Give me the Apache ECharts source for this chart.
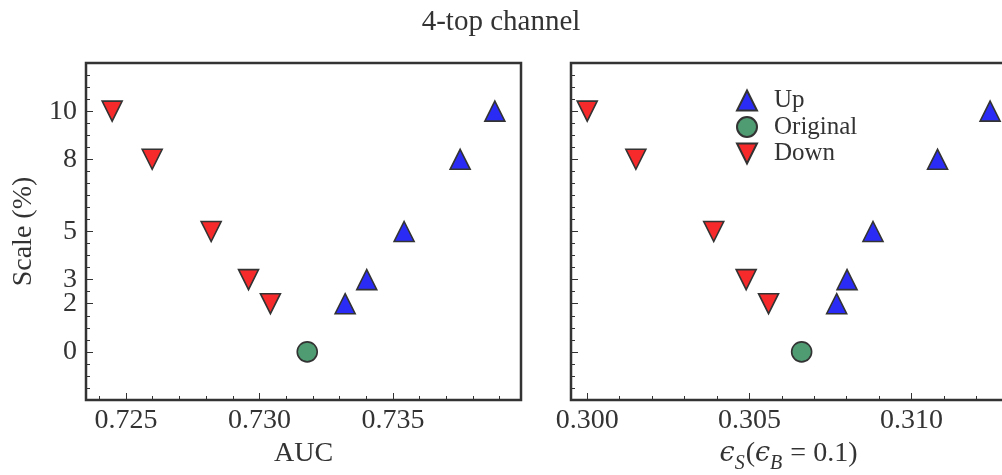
<!DOCTYPE html>
<html>
<head>
<meta charset="utf-8">
<title>4-top channel</title>
<script src="https://cdn.jsdelivr.net/npm/echarts@6/dist/echarts.min.js"></script>
<style>
  html, body { margin: 0; padding: 0; background: #fff; }
  #chart { width: 1002px; height: 475px; }
</style>
</head>
<body>
<div id="chart"></div>
<script>
// Scale shifts (%) for each marker group
const scaleUp = [2, 3, 5, 8, 10];
const scaleDown = [10, 8, 5, 3, 2];
const scaleOriginal = [0];

// AUC values
const aucUp = [0.73321, 0.73402, 0.73542, 0.73752, 0.73882];
const aucDown = [0.72448, 0.72598, 0.72819, 0.72959, 0.73041];
const aucOriginal = [0.73179];

// Signal efficiency at background efficiency 0.1
const effUp = [0.30769, 0.30801, 0.30881, 0.31080, 0.31242];
const effDown = [0.30000, 0.30150, 0.30390, 0.30490, 0.30559];
const effOriginal = [0.30661];

// Tick labels
const yTicks = [0, 2, 3, 5, 8, 10];
const aucTicks = [0.725, 0.730, 0.735];
const effTicks = [0.300, 0.305, 0.310];

const INK = '#333333';
const FONT = "'Liberation Serif', 'DejaVu Serif', serif";
const DOWN_TRIANGLE = 'path://M0,0 L2,0 L1,2 Z';

function zipPoints(xs, ys) {
  return xs.map((x, i) => [x, ys[i]]);
}

function minorSteps(from, to, step) {
  const out = [];
  const n = Math.round((to - from) / step);
  for (let i = 0; i <= n; i++) out.push(+(from + i * step).toFixed(6));
  return out;
}

const chart = echarts.init(document.getElementById('chart'), null, { renderer: 'canvas' });

const gridBox = { top: 63, width: 435, height: 337, outerBoundsMode: 'none', containLabel: false };

function majorX(gridIndex, min, max, ticks, name, nameRich) {
  return {
    type: 'value', gridIndex, min, max, position: 'bottom',
    name, nameLocation: 'middle', nameGap: 36,
    nameTextStyle: Object.assign({ fontFamily: FONT, fontSize: 28, color: INK }, nameRich ? { rich: nameRich } : {}),
    axisLine: { show: false, onZero: false },
    axisTick: { show: true, inside: true, length: 7, customValues: ticks, lineStyle: { color: INK, width: 1 } },
    axisLabel: { show: true, customValues: ticks, margin: 7, fontFamily: FONT, fontSize: 28, color: INK,
      formatter: v => v.toFixed(3) },
    splitLine: { show: false }
  };
}

function minorX(gridIndex, min, max, ticks) {
  return {
    type: 'value', gridIndex, min, max, position: 'bottom',
    axisLine: { show: false, onZero: false },
    axisTick: { show: true, inside: true, length: 4, customValues: ticks, lineStyle: { color: INK, width: 1 } },
    axisLabel: { show: false },
    splitLine: { show: false }
  };
}

function majorY(gridIndex, showLabels) {
  return {
    type: 'value', gridIndex, min: -2, max: 12, position: 'left',
    name: showLabels ? 'Scale (%)' : '', nameLocation: 'middle', nameGap: 48, nameRotate: 90,
    nameTextStyle: { fontFamily: FONT, fontSize: 28, color: INK },
    axisLine: { show: false, onZero: false },
    axisTick: { show: true, inside: true, length: 7, customValues: yTicks, lineStyle: { color: INK, width: 1 } },
    axisLabel: { show: showLabels, customValues: yTicks, margin: 9, fontFamily: FONT, fontSize: 28, color: INK },
    splitLine: { show: false }
  };
}

function minorY(gridIndex) {
  return {
    type: 'value', gridIndex, min: -2, max: 12, interval: 0.5, position: 'left',
    axisLine: { show: false, onZero: false },
    axisTick: { show: true, inside: true, length: 4, lineStyle: { color: INK, width: 1 } },
    axisLabel: { show: false },
    splitLine: { show: false }
  };
}

const epsRich = {
  e: { fontFamily: "'DejaVu Serif', serif", fontStyle: 'italic', fontSize: 27, color: INK, verticalAlign: 'bottom' },
  s: { fontFamily: FONT, fontStyle: 'italic', fontSize: 20, color: INK, verticalAlign: 'bottom', padding: [0, 1, -6, 0] },
  n: { fontFamily: FONT, fontSize: 28, color: INK, verticalAlign: 'bottom' }
};

function markerSeries(name, xAxisIndex, yAxisIndex, data, symbol, color) {
  return {
    name, type: 'scatter', xAxisIndex, yAxisIndex, data,
    symbol, symbolSize: 20,
    itemStyle: { color, borderColor: INK, borderWidth: 1.6, opacity: 1 },
    emphasis: { disabled: true },
    z: 3
  };
}

const BLUE = '#2a2cf6';
const GREEN = '#4f9c73';
const RED = '#f62a2a';

chart.setOption({
  animation: false,
  backgroundColor: '#ffffff',
  title: {
    text: '4-top channel', left: 'center', top: 3,
    textStyle: { fontFamily: FONT, fontSize: 29, fontWeight: 'normal', color: INK }
  },
  legend: {
    orient: 'vertical', left: 731, top: 83,
    itemWidth: 20, itemHeight: 20, itemGap: 1.5,
    data: [
      { name: 'Up', icon: 'triangle' },
      { name: 'Original', icon: 'circle' },
      { name: 'Down', icon: DOWN_TRIANGLE }
    ],
    textStyle: { fontFamily: FONT, fontSize: 25, color: INK, padding: [0, 0, 0, 12] },
    selectedMode: false
  },
  grid: [
    Object.assign({ left: 86, show: true, borderColor: INK, borderWidth: 2.5, backgroundColor: 'transparent' }, gridBox),
    Object.assign({ left: 571, show: true, borderColor: INK, borderWidth: 2.5, backgroundColor: 'transparent' }, gridBox)
  ],
  xAxis: [
    majorX(0, 0.7235, 0.7398, aucTicks, 'AUC'),
    minorX(0, 0.7235, 0.7398, minorSteps(0.724, 0.739, 0.001)),
    majorX(1, 0.2995, 0.31291, effTicks, '{e|ϵ}{s|S}{n|(}{e|ϵ}{s|B}{n| = 0.1)}', epsRich),
    minorX(1, 0.2995, 0.31291, minorSteps(0.300, 0.312, 0.001))
  ],
  yAxis: [
    majorY(0, true),
    minorY(0),
    majorY(1, false),
    minorY(1)
  ],
  series: [
    markerSeries('Up', 0, 0, zipPoints(aucUp, scaleUp), 'triangle', BLUE),
    markerSeries('Original', 0, 0, zipPoints(aucOriginal, scaleOriginal), 'circle', GREEN),
    markerSeries('Down', 0, 0, zipPoints(aucDown, scaleDown), DOWN_TRIANGLE, RED),
    markerSeries('Up', 2, 2, zipPoints(effUp, scaleUp), 'triangle', BLUE),
    markerSeries('Original', 2, 2, zipPoints(effOriginal, scaleOriginal), 'circle', GREEN),
    markerSeries('Down', 2, 2, zipPoints(effDown, scaleDown), DOWN_TRIANGLE, RED)
  ]
});
</script>
</body>
</html>
